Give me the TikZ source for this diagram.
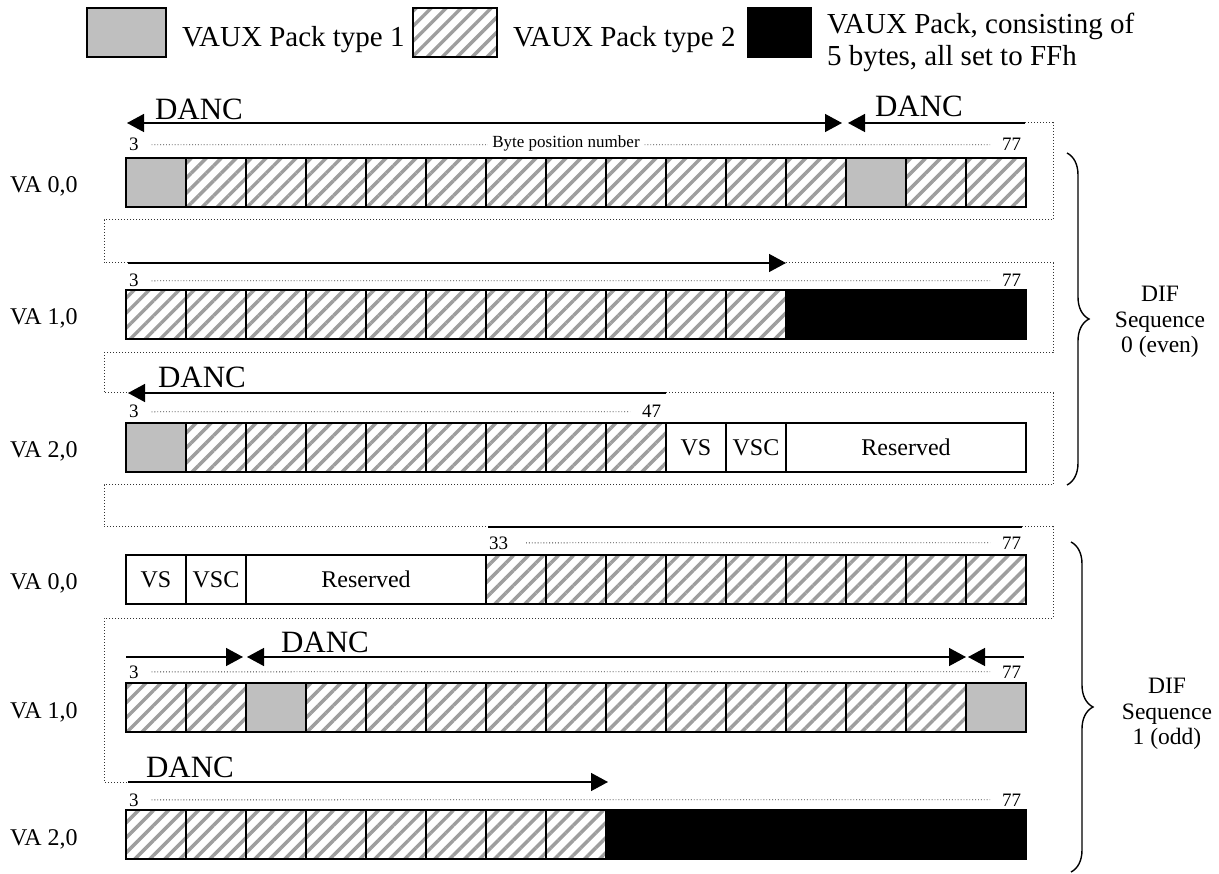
\documentclass[tikz,border=0pt]{standalone}
\usepackage{fontspec}
\setmainfont{Liberation Serif}
\usetikzlibrary{arrows.meta,patterns.meta,decorations.pathreplacing}

\begin{document}
\begin{tikzpicture}[
  x=1pt,
  y=-1pt,
  every node/.style={inner sep=0pt, outer sep=0pt},
  cell/.style={
    draw,
    line width=1.3pt,
    minimum width=60pt,
    minimum height=49pt,
    anchor=north west,
    font=\fontsize{24}{28}\selectfont
  },
  packone/.style={cell, fill=black!25},
  packtwo/.style={
    cell,
    pattern={Lines[angle=45,distance=10.6pt,line width=3.5pt]},
    pattern color=black!38
  },
  packff/.style={cell, fill=black},
  legendtxt/.style={anchor=base west, font=\fontsize{29}{32}\selectfont},
  rowlabel/.style={anchor=base west, font=\fontsize{24}{28}\selectfont},
  bytenum/.style={font=\fontsize{19}{22}\selectfont},
  danc/.style={anchor=base west, font=\fontsize{31}{34}\selectfont},
  seqlabel/.style={align=center, font=\fontsize{23.5}{25.5}\selectfont},
  bytedots/.style={dotted, line width=0.9pt, black!75},
  chain/.style={dotted, line width=1pt, black!80},
  plain/.style={line width=1.4pt},
  arrow/.style={-{Triangle[length=17pt,width=18pt]}, line width=1.4pt},
  twoway/.style={{Triangle[length=17pt,width=18pt]}-{Triangle[length=17pt,width=18pt]}, line width=1.4pt},
  rowframe/.style={line width=2pt},
  seqbrace/.style={decorate, decoration={brace, amplitude=22pt}, line width=1.4pt}
]
\useasboundingbox (0,0) rectangle (1219,874);

% legend
\node[packone, minimum width=79pt] (keyone) at (87,8) {};
\node[legendtxt] (keyonetxt) at (182,47) {VAUX Pack type 1};
\node[packtwo, minimum width=84pt] (keytwo) at (413,8) {};
\node[legendtxt] (keytwotxt) at (513,47) {VAUX Pack type 2};
\node[packff, minimum width=63pt] (keyff) at (748,8) {};
\node[legendtxt, align=left, anchor=north west] (keyfftxt) at (827,13) {VAUX Pack, consisting of\\5 bytes, all set to FFh};

% DIF sequence 0, VA 0,0
\node[rowlabel] (laba) at (10,193) {VA 0,0};
\foreach \kind [count=\i from 0] in {packone,packtwo,packtwo,packtwo,packtwo,packtwo,packtwo,packtwo,packtwo,packtwo,packtwo,packtwo,packone,packtwo,packtwo}
  \node[\kind] (ra\i) at (126+60*\i,158) {};
\draw[rowframe] (ra0.north west) rectangle (ra14.south east);
\node[bytenum, anchor=base west] (na3) at (129,151) {3};
\node[bytenum, anchor=base east] (na77) at (1021,151) {77};
\draw[bytedots, shorten <=13pt, shorten >=12pt] (na3.east) -- (na77.west);
\node[font=\fontsize{17}{20}\selectfont, fill=white, inner xsep=4pt, inner ysep=1pt, anchor=base] (bytepos) at (566,148) {Byte position number};

% VA 1,0
\node[rowlabel] (labb) at (10,324.5) {VA 1,0};
\foreach \i in {0,...,10}
  \node[packtwo] (rb\i) at (126+60*\i,290) {};
\node[packff, minimum width=240pt] (rbff) at (786,290) {};
\draw[rowframe] (rb0.north west) rectangle (rbff.south east);
\node[bytenum, anchor=base west] (nb3) at (129,287) {3};
\node[bytenum, anchor=base east] (nb77) at (1021,287) {77};
\draw[bytedots, shorten <=13pt, shorten >=12pt] (nb3.east) -- (nb77.west);

% VA 2,0
\node[rowlabel] (labc) at (10,458) {VA 2,0};
\foreach \kind [count=\i from 0] in {packone,packtwo,packtwo,packtwo,packtwo,packtwo,packtwo,packtwo,packtwo}
  \node[\kind] (rc\i) at (126+60*\i,423) {};
\node[cell] (rcvs) at (666,423) {VS};
\node[cell] (rcvsc) at (726,423) {VSC};
\node[cell, minimum width=240pt] (rcres) at (786,423) {Reserved};
\draw[rowframe] (rc0.north west) rectangle (rcres.south east);
\node[bytenum, anchor=base west] (nc3) at (129,418) {3};
\node[bytenum, anchor=base east] (nc47) at (661,418) {47};
\draw[bytedots, shorten <=13pt, shorten >=12pt] (nc3.east) -- (nc47.west);

% DIF sequence 1, VA 0,0
\node[rowlabel] (labd) at (10,589.5) {VA 0,0};
\node[cell] (rdvs) at (126,555) {VS};
\node[cell] (rdvsc) at (186,555) {VSC};
\node[cell, minimum width=240pt] (rdres) at (246,555) {Reserved};
\foreach \i in {6,...,14}
  \node[packtwo] (rd\i) at (126+60*\i,555) {};
\draw[rowframe] (rdvs.north west) rectangle (rd14.south east);
\node[bytenum, anchor=base west] (nd33) at (489,549) {33};
\node[bytenum, anchor=base east] (nd77) at (1021,549) {77};
\draw[bytedots, shorten <=18pt, shorten >=12pt] (nd33.east) -- (nd77.west);

% VA 1,0
\node[rowlabel] (labe) at (10,718) {VA 1,0};
\foreach \kind [count=\i from 0] in {packtwo,packtwo,packone,packtwo,packtwo,packtwo,packtwo,packtwo,packtwo,packtwo,packtwo,packtwo,packtwo,packtwo,packone}
  \node[\kind] (re\i) at (126+60*\i,683) {};
\draw[rowframe] (re0.north west) rectangle (re14.south east);
\node[bytenum, anchor=base west] (ne3) at (129,678) {3};
\node[bytenum, anchor=base east] (ne77) at (1021,678) {77};
\draw[bytedots, shorten <=13pt, shorten >=12pt] (ne3.east) -- (ne77.west);

% VA 2,0
\node[rowlabel] (labf) at (10,845) {VA 2,0};
\foreach \i in {0,...,7}
  \node[packtwo] (rf\i) at (126+60*\i,810) {};
\node[packff, minimum width=420pt] (rfff) at (606,810) {};
\draw[rowframe] (rf0.north west) rectangle (rfff.south east);
\node[bytenum, anchor=base west] (nf3) at (129,806) {3};
\node[bytenum, anchor=base east] (nf77) at (1021,806) {77};
\draw[bytedots, shorten <=13pt, shorten >=12pt] (nf3.east) -- (nf77.west);

% DANC chain
\coordinate (ca1) at (127,123);
\coordinate (ca2) at (842,123);
\coordinate (ca3) at (848,123);
\coordinate (ca4) at (1025,123);
\coordinate (ka1) at (1053,123);
\coordinate (ka2) at (1053,220);
\coordinate (ka3) at (104,220);
\coordinate (ka4) at (104,263);
\coordinate (cb1) at (128,263);
\coordinate (cb2) at (786,263);
\coordinate (kb1) at (1053,263);
\coordinate (kb2) at (1053,353);
\coordinate (kb3) at (104,353);
\coordinate (kb4) at (104,393);
\coordinate (cc1) at (128,393);
\coordinate (cc2) at (666,393);
\coordinate (kc1) at (1053,393);
\coordinate (kc2) at (1053,485);
\coordinate (kc3) at (104,485);
\coordinate (kc4) at (104,527);
\coordinate (cd1) at (488,527);
\coordinate (cd2) at (1022,527);
\coordinate (kd1) at (1053,527);
\coordinate (kd2) at (1053,618);
\coordinate (kd3) at (104,618);
\coordinate (kd4) at (104,782);
\coordinate (ce1) at (126,657);
\coordinate (ce2) at (243,657);
\coordinate (ce3) at (247,657);
\coordinate (ce4) at (966,657);
\coordinate (ce5) at (968,657);
\coordinate (ce6) at (1024,657);
\coordinate (cf1) at (128,782);
\coordinate (cf2) at (608,782);

\draw[twoway] (ca1) -- (ca2);
\draw[arrow] (ca4) -- (ca3);
\draw[chain] (ca4) -- (ka1) -- (ka2) -- (ka3) -- (ka4) -- (cb1);
\draw[arrow] (cb1) -- (cb2);
\draw[chain] (cb2) -- (kb1) -- (kb2) -- (kb3) -- (kb4) -- (cc1);
\draw[arrow] (cc2) -- (cc1);
\draw[chain] (cc2) -- (kc1) -- (kc2) -- (kc3) -- (kc4) -- (cd1);
\draw[plain] (cd1) -- (cd2);
\draw[chain] (cd2) -- (kd1) -- (kd2) -- (kd3) -- (kd4) -- (cf1);
\draw[arrow] (cf1) -- (cf2);
\draw[arrow] (ce1) -- (ce2);
\draw[twoway] (ce3) -- (ce4);
\draw[arrow] (ce6) -- (ce5);

\node[danc] (danca) at (155,120) {DANC};
\node[danc] (dancb) at (875,117) {DANC};
\node[danc] (dancc) at (158,388) {DANC};
\node[danc] (dance) at (281,652) {DANC};
\node[danc] (dancf) at (146,777) {DANC};

% DIF sequences
\draw[seqbrace] (1067,153) -- (1067,485);
\node[seqlabel] (seqeven) at (1160,322) {DIF\\Sequence\\0 (even)};
\draw[seqbrace] (1071,542) -- (1071,872);
\node[seqlabel] (seqodd) at (1167,714) {DIF\\Sequence\\1 (odd)};

\end{tikzpicture}
\end{document}
